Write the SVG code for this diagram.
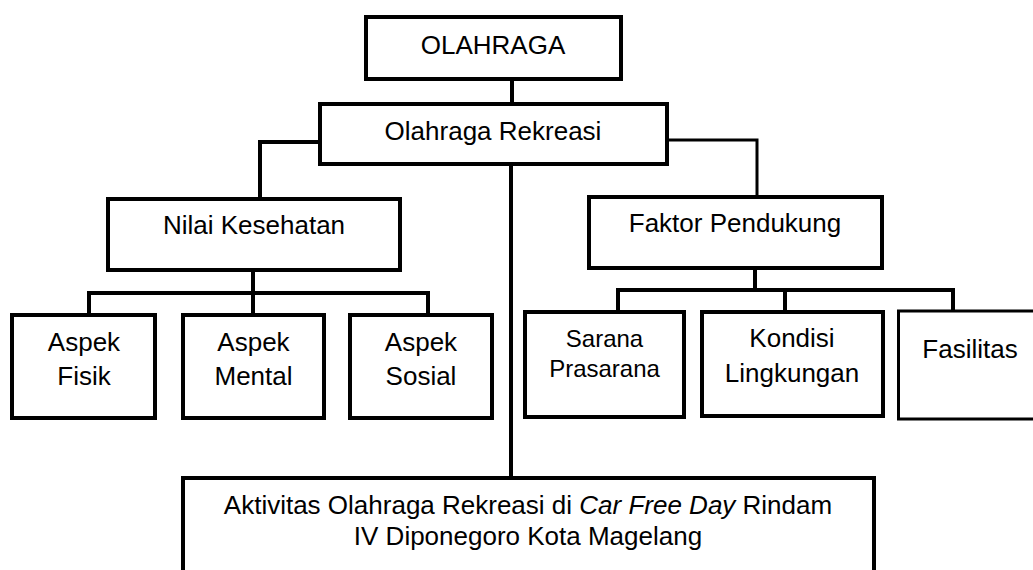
<svg xmlns="http://www.w3.org/2000/svg" width="1033" height="570" viewBox="0 0 1033 570">
<style>
.box{fill:#fff;stroke:#000;stroke-width:4}
.thin{stroke-width:3}
.ln{fill:none;stroke:#000;stroke-width:4;stroke-linecap:square}
text{font-family:"Liberation Sans",Arial,sans-serif;font-size:26px;fill:#000;text-anchor:middle}
.sm{font-size:24px}
</style>
<rect width="1033" height="570" fill="#fff"/>
<g id="connectors">
<path class="ln" d="M512 79V104"/>
<path class="ln" d="M320 142H260V199"/>
<path class="ln" d="M667 140H757V197" style="stroke-width:3"/>
<path class="ln" d="M511 164V478"/>
<path class="ln" d="M253 270V293M89 315V293H428V315M253 293V315"/>
<path class="ln" d="M755 268V290M618 313V290H953V311M785 290V313"/>
</g>
<g id="olahraga"><rect class="box" x="366" y="17" width="255" height="62"/><text x="493" y="54">OLAHRAGA</text></g>
<g id="rekreasi"><rect class="box" x="320" y="104" width="347" height="60"/><text x="493" y="140">Olahraga Rekreasi</text></g>
<g id="nilai"><rect class="box" x="108" y="199" width="292" height="71"/><text x="254" y="234">Nilai Kesehatan</text></g>
<g id="faktor"><rect class="box" x="589" y="197" width="293" height="71"/><text x="735" y="232">Faktor Pendukung</text></g>
<g id="fisik"><rect class="box" x="12" y="315" width="143" height="103"/><text x="84" y="351">Aspek</text><text x="84" y="385">Fisik</text></g>
<g id="mental"><rect class="box" x="183" y="315" width="141" height="103"/><text x="253.5" y="351">Aspek</text><text x="253.5" y="385">Mental</text></g>
<g id="sosial"><rect class="box" x="350" y="315" width="142" height="103"/><text x="421" y="351">Aspek</text><text x="421" y="385">Sosial</text></g>
<g id="sarana"><rect class="box" x="525" y="312" width="159" height="105"/><text class="sm" x="604.5" y="347">Sarana</text><text class="sm" x="604.5" y="377">Prasarana</text></g>
<g id="kondisi"><rect class="box" x="702" y="312" width="181" height="104"/><text x="792" y="347">Kondisi</text><text x="792" y="382">Lingkungan</text></g>
<g id="fasilitas"><rect class="box thin" x="898.5" y="311" width="144" height="108"/><text x="970" y="358">Fasilitas</text></g>
<g id="aktivitas"><rect class="box" x="183" y="478" width="691" height="110"/><text x="528" y="514">Aktivitas Olahraga Rekreasi di <tspan font-style="italic">Car Free Day</tspan> Rindam</text><text x="528" y="545">IV Diponegoro Kota Magelang</text></g>
</svg>
